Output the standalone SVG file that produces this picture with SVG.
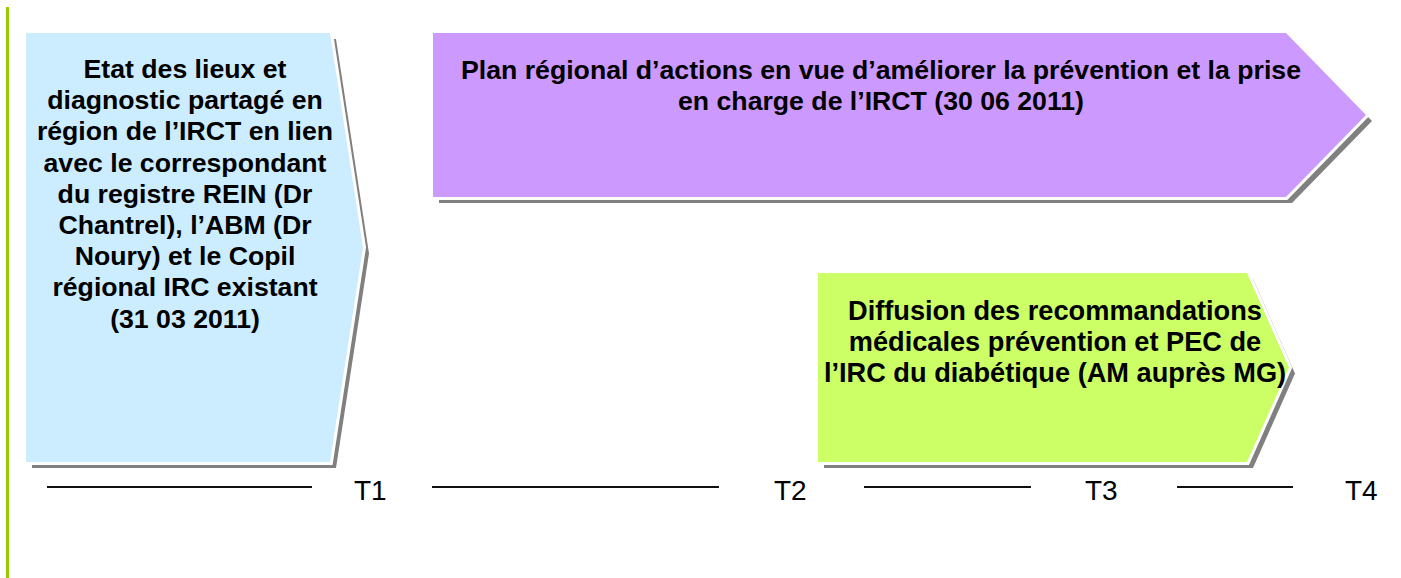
<svg xmlns="http://www.w3.org/2000/svg" width="1401" height="578" viewBox="0 0 1401 578">
<style>
.shadow{fill:#808080}
.shape{stroke:#ffffff;stroke-width:6;paint-order:stroke;stroke-linejoin:miter}
.lbl{font-family:"Liberation Sans",Arial,sans-serif;font-weight:bold;font-size:26.67px;fill:#000;text-anchor:middle}
.t{font-family:"Liberation Sans",Arial,sans-serif;font-size:28px;fill:#000}
.tl{stroke:#111;stroke-width:2}
</style>
<rect x="0" y="0" width="1401" height="578" fill="#ffffff"/>
<line x1="7.5" y1="7" x2="7.5" y2="578" stroke="#99CC00" stroke-width="3"/>

<g id="etat-des-lieux">
<polygon class="shadow" points="32,39 336,39 369,253.5 336,468 32,468"/>
<polygon class="shape" fill="#CCECFF" points="26,33 330,33 363,247.5 330,462 26,462"/>
<text class="lbl" x="185" y="78">Etat des lieux et</text>
<text class="lbl" x="185" y="109.2">diagnostic partagé en</text>
<text class="lbl" x="185" y="140.4">région de l’IRCT en lien</text>
<text class="lbl" x="185" y="171.6">avec le correspondant</text>
<text class="lbl" x="185" y="202.8">du registre REIN (Dr</text>
<text class="lbl" x="185" y="234">Chantrel), l’ABM (Dr</text>
<text class="lbl" x="185" y="265.2">Noury) et le Copil</text>
<text class="lbl" x="185" y="296.4">régional IRC existant</text>
<text class="lbl" x="185" y="327.6">(31 03 2011)</text>
</g>

<g id="plan-regional">
<polygon class="shadow" points="439,39 1292,39 1372,121 1292,203 439,203"/>
<polygon class="shape" fill="#CC99FF" points="433,33 1286,33 1366,115 1286,197 433,197"/>
<text class="lbl" x="881" y="78.5">Plan régional d’actions en vue d’améliorer la prévention et la prise</text>
<text class="lbl" x="881" y="109.7">en charge de l’IRCT (30 06 2011)</text>
</g>

<g id="diffusion">
<polygon class="shadow" points="824,279 1253,279 1295,373.5 1253,468 824,468"/>
<polygon class="shape" fill="#CCFF66" points="818,273 1247,273 1289,367.5 1247,462 818,462"/>
<text class="lbl" x="1055" y="319.5" style="font-size:27.2px">Diffusion des recommandations</text>
<text class="lbl" x="1055" y="350.7" style="font-size:27.2px">médicales prévention et PEC de</text>
<text class="lbl" x="1055" y="381.9" style="font-size:27.2px">l’IRC du diabétique (AM auprès MG)</text>
</g>

<g id="timeline">
<line class="tl" x1="47" y1="487" x2="312" y2="487"/>
<line class="tl" x1="432" y1="487" x2="719" y2="487"/>
<line class="tl" x1="864" y1="487" x2="1031" y2="487"/>
<line class="tl" x1="1177" y1="487" x2="1293" y2="487"/>
<text class="t" x="354" y="500">T1</text>
<text class="t" x="774" y="500">T2</text>
<text class="t" x="1085" y="500">T3</text>
<text class="t" x="1345" y="500">T4</text>
</g>
</svg>
